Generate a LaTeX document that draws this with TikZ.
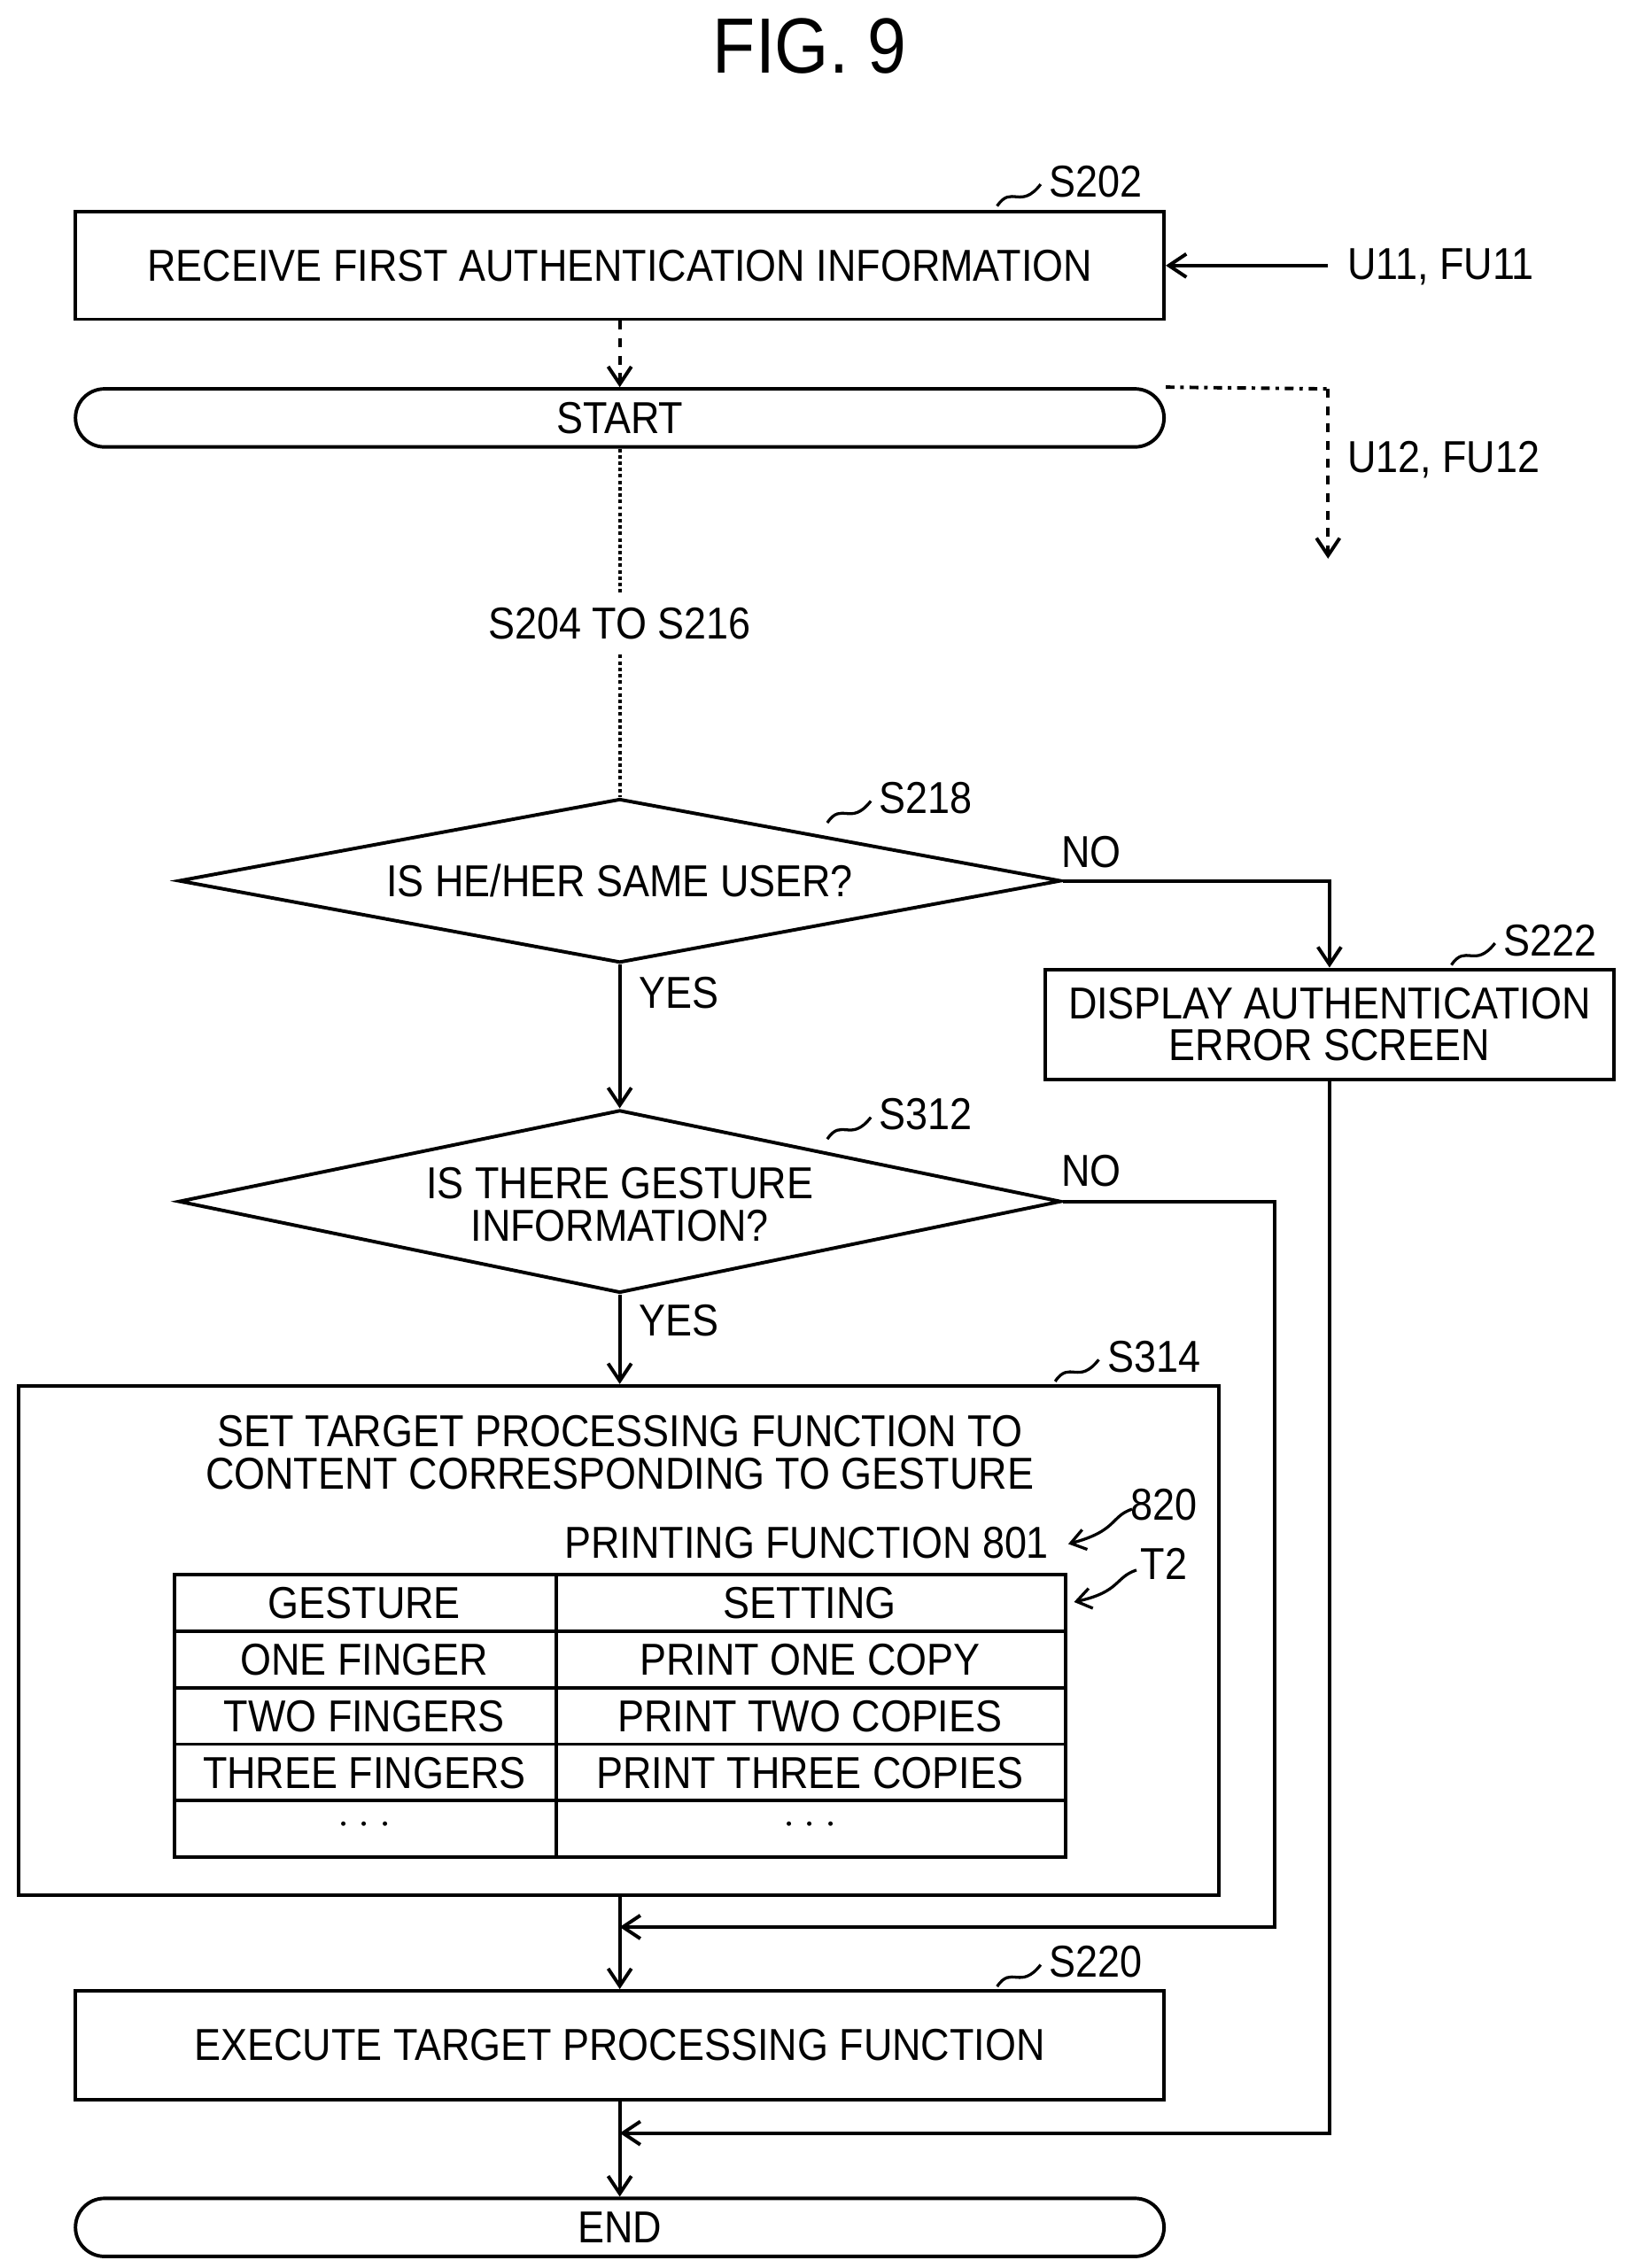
\documentclass[tikz,border=0pt]{standalone}
\usepackage{fontspec}
\setmainfont{Liberation Sans}[FakeStretch=0.89]
\usetikzlibrary{shapes.geometric,arrows.meta}
\begin{document}
\begin{tikzpicture}[x=0.5pt,y=-0.5pt,
  every node/.style={font=\fontsize{15.4}{14.5}\selectfont, inner sep=0pt},
  box/.style={draw, line width=1.2pt, rectangle},
  term/.style={draw, line width=1.2pt, rectangle, rounded corners=10pt},
  dia/.style={draw, line width=1.2pt, diamond, aspect=5.38},
  ln/.style={line width=1.2pt},
  arr/.style={line width=1.2pt, -{Straight Barb[length=6pt,width=8pt]}},
  txt/.style={align=center}]
\useasboundingbox (0,0) rectangle (1122,1563);
\node[font=\fontsize{27}{30}\selectfont] (title) at (558,32) {FIG. 9};

\node[box, minimum width=375pt, minimum height=37pt] (s202) at (427,183) {RECEIVE FIRST AUTHENTICATION INFORMATION};
\node[term, minimum width=375pt, minimum height=20pt] (start) at (427,288) {START};
\node[dia, minimum width=304pt, minimum height=56.5pt] (s218) at (427,607) {};
\node[txt] (s218t) at (427,607) {IS HE/HER SAME USER?};
\node[box, minimum width=196pt, minimum height=38pt, txt] (s222) at (916,706) {DISPLAY AUTHENTICATION\\ERROR SCREEN};
\node[dia, minimum width=304pt, minimum height=63pt] (s312) at (427,828) {};
\node[txt] (s312t) at (427,830) {IS THERE GESTURE\\INFORMATION?};
\node[box, minimum width=413.5pt, minimum height=175.5pt] (s314) at (426.5,1130.5) {};
\node[txt] (s314t) at (427,1001) {SET TARGET PROCESSING FUNCTION TO\\CONTENT CORRESPONDING TO GESTURE};
\node[anchor=east] (pf) at (723,1063) {PRINTING FUNCTION 801};
\node[box, minimum width=375pt, minimum height=37.5pt] (s220) at (427,1409.5) {EXECUTE TARGET PROCESSING FUNCTION};
\node[term, minimum width=375pt, minimum height=20pt] (end) at (427,1535) {END};

% table
\draw[ln] (120,1085) rectangle (734,1280);
\draw[ln] (383,1085) -- (383,1280);
\foreach \y in {1124,1163,1202,1241} \draw[ln] (120,\y) -- (734,\y);
\node (g0) at (251,1105) {GESTURE};
\node (g1) at (251,1144) {ONE FINGER};
\node (g2) at (251,1183) {TWO FINGERS};
\node (g3) at (251,1222) {THREE FINGERS};
\node (g4) at (251,1258) {$\cdot\cdot\cdot$};
\node (h0) at (558,1105) {SETTING};
\node (h1) at (558,1144) {PRINT ONE COPY};
\node (h2) at (558,1183) {PRINT TWO COPIES};
\node (h3) at (558,1222) {PRINT THREE COPIES};
\node (h4) at (558,1258) {$\cdot\cdot\cdot$};

% step labels with squiggles
\foreach \n/\x/\y in {S202/755/125, S218/638/550, S222/1068/648, S312/638/768, S314/795/935, S220/755/1352}{
  \node (l\n) at (\x,\y) {\n};
  \draw[line width=1pt] (\x-68,\y+17) .. controls (\x-58,\y+2) and (\x-52,\y+20) .. (\x-38,\y+2);
}
\node (l820) at (802,1037) {820};
\draw[line width=1pt,-{Straight Barb[length=5pt,width=7pt]}] (780,1040) .. controls (765,1045) and (770,1055) .. (736,1064);
\node (lT2) at (802,1078) {T2};
\draw[line width=1pt,-{Straight Barb[length=5pt,width=7pt]}] (783,1082) .. controls (768,1087) and (772,1097) .. (740,1104);

% connectors
\node[anchor=west] (u11) at (928,184) {U11, FU11};
\draw[arr] (915,183) -- (s202.east);
\draw[arr, dashed] (s202.south) -- (start.north);
\coordinate (c1) at (915,268);
\coordinate (c2) at (915,385);
\draw[ln, dash dot] (start.north east) -- (c1);
\draw[arr, dashed] (c1) -- (c2);
\node[anchor=west] (u12) at (928,317) {U12, FU12};
\node[inner sep=5pt] (s204) at (427,430) {S204 TO S216};
\draw[ln, densely dotted] (start.south) -- (s204.north);
\draw[ln, densely dotted] (s204.south) -- (s218.north);

\draw[arr] (s218.east) -| (s222.north);
\node (no1) at (752,587) {NO};
\draw[arr] (s218.south) -- (s312.north);
\node (yes1) at (468,684) {YES};
\coordinate (j1) at (427,1328);
\coordinate (j2) at (427,1470);
\draw[arr] (s312.east) -| (878,1328) -- (j1);
\node (no2) at (752,807) {NO};
\draw[arr] (s312.south) -- (s314.north -| s312.south);
\node (yes2) at (468,910) {YES};
\draw[arr] (s314.south -| s220.north) -- (s220.north);
\draw[arr] (s222.south) |- (j2);
\draw[arr] (s220.south) -- (end.north);
\end{tikzpicture}
\end{document}
